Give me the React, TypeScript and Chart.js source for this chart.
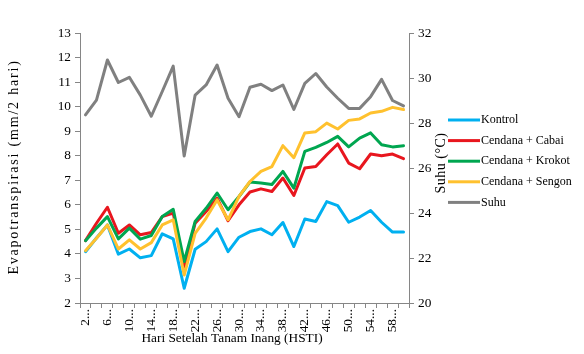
import React, { useEffect, useRef } from 'react';
import { Chart, registerables } from 'chart.js';

Chart.register(...registerables);

const days = ['2','4','6','8','10','12','14','16','18','20','22','24','26','28','30','32','34','36','38','40','42','44','46','48','50','52','54','56','58','60'];

const kontrol = [4.09,4.65,5.18,3.99,4.2,3.84,3.93,4.82,4.61,2.6,4.19,4.5,5.02,4.09,4.68,4.91,5.02,4.78,5.28,4.3,5.42,5.32,6.13,5.97,5.29,5.5,5.77,5.29,4.89,4.89];
const cabai = [4.54,5.25,5.9,4.84,5.18,4.78,4.87,5.52,5.66,3.48,5.25,5.73,6.27,5.35,6.0,6.52,6.65,6.54,7.09,6.38,7.5,7.56,8.04,8.48,7.7,7.47,8.07,8.0,8.07,7.88];
const krokot = [4.54,5.05,5.52,4.61,5.05,4.6,4.75,5.52,5.82,3.69,5.32,5.86,6.48,5.8,6.34,6.93,6.89,6.83,7.36,6.68,8.18,8.34,8.54,8.79,8.36,8.72,8.93,8.45,8.36,8.41];
const sengon = [4.13,4.64,5.18,4.2,4.57,4.2,4.46,5.18,5.39,3.14,4.84,5.46,6.2,5.39,6.34,6.95,7.36,7.56,8.41,7.92,8.93,8.98,9.33,9.09,9.44,9.5,9.74,9.81,9.97,9.88];
const suhu = [28.36,29.02,30.8,29.8,30.03,29.24,28.3,29.4,30.53,26.53,29.24,29.69,30.58,29.1,28.28,29.59,29.72,29.44,29.69,28.6,29.76,30.2,29.6,29.1,28.65,28.65,29.17,29.94,29.0,28.76];

const seriesNames = ['Kontrol', 'Cendana + Cabai', 'Cendana + Krokot', 'Cendana + Sengon', 'Suhu'];
const seriesColors = ['#00B0F0', '#E8161E', '#00A650', '#FFC12E', '#808080'];

const xTitle = 'Hari Setelah Tanam Inang (HSTI)';
const yTitle = 'Evapotranspirasi (mm/2 hari)';
const y1Title = 'Suhu (°C)';

const FAMILY = "'Liberation Serif', 'Times New Roman', serif";
const AXIS = '#868686';
const TEXT = '#000000';

const extrasPlugin = {
  id: 'extras',
  afterDraw(chart: any) {
    const ctx = chart.ctx;
    ctx.save();
    ctx.fillStyle = TEXT;
    ctx.textAlign = 'center';
    ctx.textBaseline = 'middle';
    // x axis title
    ctx.font = `13.33px ${FAMILY}`;
    ctx.fillText(xTitle, 232, 338);
    // left axis title (reads bottom to top, widely spaced)
    ctx.save();
    ctx.translate(14, 167);
    ctx.rotate(-Math.PI / 2);
    ctx.font = `14px ${FAMILY}`;
    (ctx as any).letterSpacing = '1.8px';
    ctx.fillText(yTitle, 0, 0);
    ctx.restore();
    // right axis title (reads bottom to top)
    ctx.save();
    ctx.translate(441, 163);
    ctx.rotate(-Math.PI / 2);
    ctx.font = `14px ${FAMILY}`;
    (ctx as any).letterSpacing = '0.5px';
    ctx.fillText(y1Title, 0, 0);
    ctx.restore();
    // legend
    ctx.font = `12px ${FAMILY}`;
    ctx.textAlign = 'left';
    chart.data.datasets.forEach((ds: any, i: number) => {
      const y = 120 + i * 20.6;
      ctx.strokeStyle = ds.borderColor;
      ctx.lineWidth = 3;
      ctx.lineCap = 'butt';
      ctx.beginPath();
      ctx.moveTo(448, y);
      ctx.lineTo(480, y);
      ctx.stroke();
      ctx.fillStyle = TEXT;
      ctx.fillText(ds.label, 481, y);
    });
    ctx.restore();
  },
};

export default function App() {
  const ref = useRef<HTMLCanvasElement>(null);
  useEffect(() => {
    document.body.style.margin = '0';
    const values = [kontrol, cabai, krokot, sengon, suhu];
    const datasets = values.map((v, i) => ({
      label: seriesNames[i],
      data: v,
      borderColor: seriesColors[i],
      backgroundColor: seriesColors[i],
      borderWidth: 3,
      pointRadius: 0,
      tension: 0,
      fill: false,
      borderJoinStyle: 'round' as const,
      borderCapStyle: 'round' as const,
      yAxisID: i === 4 ? 'y1' : 'y',
      order: 4 - i,
    }));
    const tickFont = { family: FAMILY, size: 13.33 };
    const chart = new Chart(ref.current!, {
      type: 'line',
      data: { labels: days, datasets },
      options: {
        responsive: false,
        animation: false,
        layout: { padding: { top: 33, left: 0, right: 0, bottom: 0 } },
        plugins: { legend: { display: false }, tooltip: { enabled: false } },
        scales: {
          x: {
            type: 'category',
            offset: true,
            grid: { offset: true, drawOnChartArea: false, drawTicks: true, tickLength: 5, color: AXIS },
            border: { color: AXIS, width: 1 },
            ticks: {
              autoSkip: false,
              maxRotation: 90,
              minRotation: 90,
              padding: 1,
              color: TEXT,
              font: tickFont,
              callback: (_v: any, idx: number) => (idx % 2 === 0 ? days[idx] + '...' : ''),
            },
            afterFit: (s: any) => { s.height = 51; },
          },
          y: {
            position: 'left',
            min: 2,
            max: 13,
            grid: { drawOnChartArea: false, drawTicks: true, tickLength: 5, color: AXIS },
            border: { color: AXIS, width: 1 },
            ticks: { stepSize: 1, padding: 4, color: TEXT, font: tickFont },
            afterFit: (s: any) => { s.width = 80; },
          },
          y1: {
            position: 'right',
            min: 20,
            max: 32,
            grid: { drawOnChartArea: false, drawTicks: true, tickLength: 5, color: AXIS },
            border: { color: AXIS, width: 1 },
            ticks: { stepSize: 2, padding: 4, color: TEXT, font: tickFont },
            afterFit: (s: any) => { s.width = 175; },
          },
        },
      },
      plugins: [extrasPlugin],
    });
    return () => chart.destroy();
  }, []);
  return <canvas ref={ref} width={584} height={354} style={{ display: 'block' }} />;
}
